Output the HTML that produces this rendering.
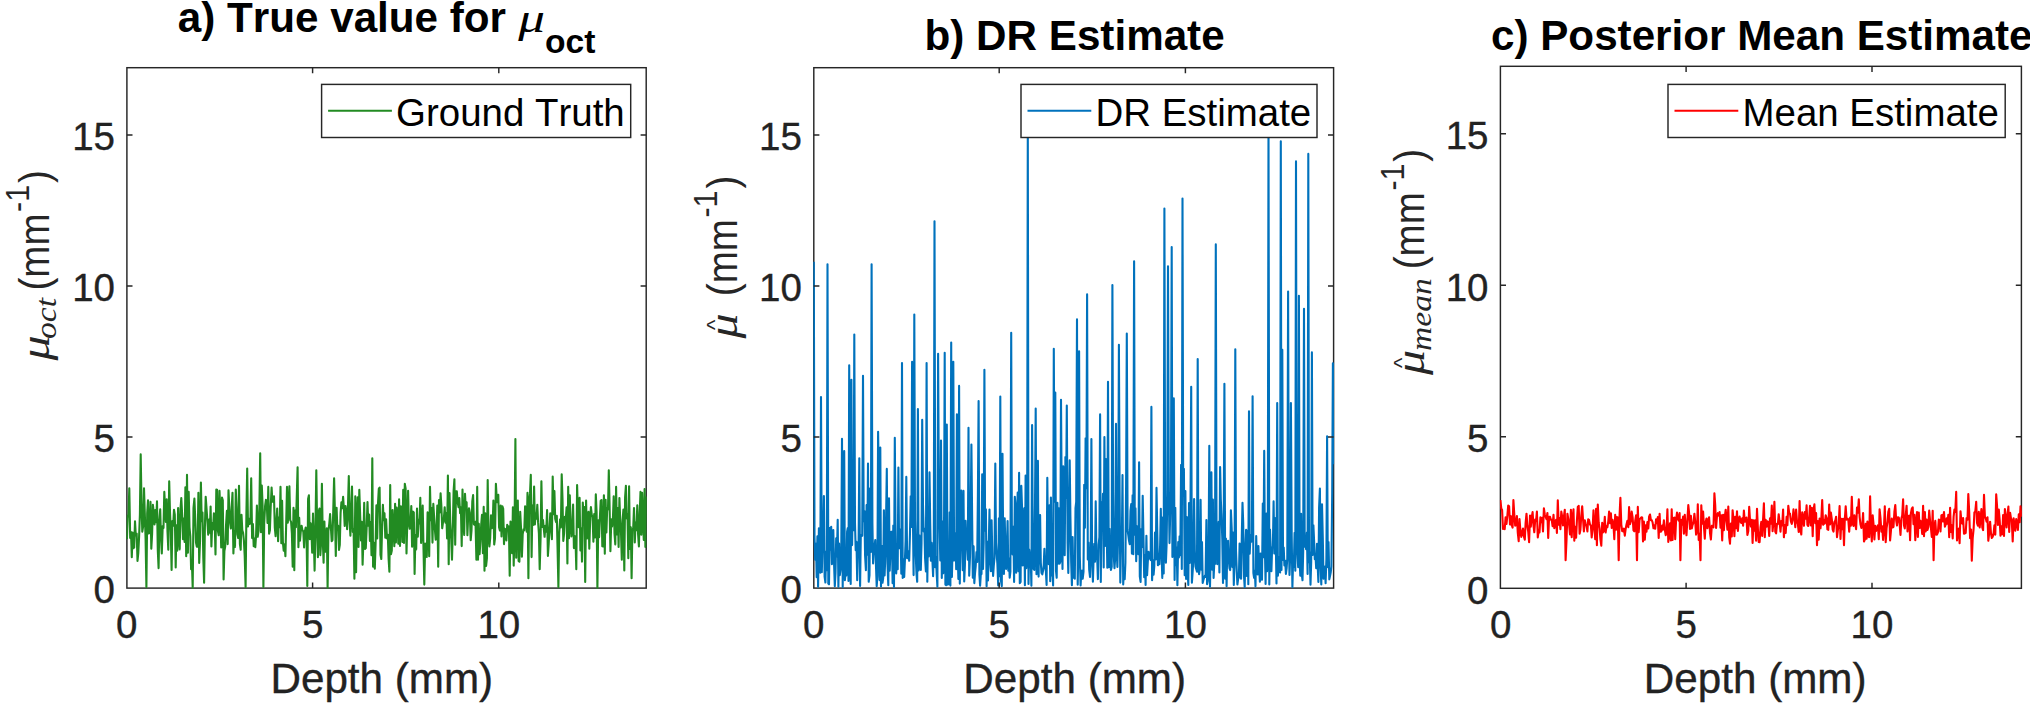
<!DOCTYPE html>
<html lang="en"><head><meta charset="utf-8"><title>Figure</title>
<style>html,body{margin:0;padding:0;background:#fff;overflow:hidden}svg{display:block}text{font-kerning:none}</style></head>
<body>
<svg width="2030" height="705" viewBox="0 0 2030 705">
<rect width="2030" height="705" fill="#fff"/>
<defs>
<clipPath id="cp0"><rect x="126.4" y="67.2" width="520.3" height="521.6"/></clipPath>
<clipPath id="cp1"><rect x="813.3" y="67.2" width="520.8" height="521.6"/></clipPath>
<clipPath id="cp2"><rect x="1499.9" y="65.8" width="522.0" height="523.2"/></clipPath>
</defs>
<rect x="126.9" y="67.7" width="519.3" height="520.4" fill="none" stroke="#262626" stroke-width="1.45"/>
<polyline clip-path="url(#cp0)" fill="none" stroke="#228B22" stroke-width="2.1" stroke-linejoin="round" points="126.9,539.1 127.7,515.6 128.5,516.4 129.3,488.4 130.2,538.0 131.0,532.1 131.8,557.3 132.6,532.5 133.4,548.2 134.2,547.5 135.0,521.2 135.8,535.5 136.7,533.7 137.5,560.9 138.3,552.9 139.1,536.4 139.9,514.8 140.7,454.4 141.5,503.0 142.3,531.7 143.2,526.2 144.0,488.4 144.8,513.2 145.6,539.3 146.4,587.1 147.2,513.4 148.0,500.4 148.8,533.4 149.7,532.8 150.5,501.9 151.3,548.7 152.1,534.0 152.9,504.9 153.7,512.4 154.5,524.5 155.3,510.1 156.2,522.1 157.0,501.4 157.8,550.5 158.6,568.1 159.4,519.9 160.2,509.4 161.0,537.8 161.8,553.4 162.7,526.1 163.5,528.1 164.3,491.9 165.1,508.2 165.9,522.0 166.7,499.2 167.5,531.8 168.3,549.7 169.2,481.2 170.0,512.3 170.8,532.1 171.6,570.0 172.4,521.1 173.2,525.8 174.0,509.7 174.8,514.6 175.7,567.4 176.5,525.2 177.3,550.6 178.1,508.0 178.9,537.7 179.7,549.4 180.5,509.2 181.3,498.1 182.2,515.7 183.0,539.1 183.8,518.6 184.6,541.9 185.4,487.3 186.2,556.3 187.0,474.9 187.9,552.7 188.7,491.9 189.5,527.3 190.3,536.0 191.1,569.3 191.9,561.4 192.7,587.9 193.5,508.1 194.4,498.6 195.2,518.1 196.0,542.6 196.8,546.6 197.6,546.6 198.4,492.8 199.2,562.9 200.0,541.5 200.9,482.5 201.7,521.2 202.5,512.5 203.3,557.7 204.1,582.8 204.9,526.9 205.7,496.7 206.5,508.0 207.4,521.4 208.2,534.6 209.0,519.5 209.8,532.8 210.6,506.5 211.4,546.4 212.2,523.4 213.0,529.5 213.9,513.3 214.7,521.2 215.5,554.5 216.3,489.6 217.1,489.7 217.9,530.7 218.7,535.2 219.5,490.9 220.4,513.6 221.2,547.4 222.0,497.6 222.8,500.3 223.6,579.5 224.4,551.0 225.2,546.6 226.0,525.7 226.9,510.9 227.7,544.1 228.5,490.2 229.3,507.7 230.1,522.9 230.9,528.5 231.7,508.4 232.5,492.8 233.4,553.5 234.2,531.5 235.0,546.9 235.8,489.5 236.6,510.5 237.4,534.3 238.2,538.0 239.0,485.8 239.9,544.1 240.7,549.8 241.5,514.8 242.3,530.2 243.1,532.9 243.9,540.5 244.7,555.8 245.6,587.1 246.4,513.7 247.2,468.5 248.0,526.5 248.8,518.5 249.6,523.9 250.4,523.3 251.2,478.2 252.1,538.1 252.9,524.0 253.7,546.2 254.5,538.6 255.3,547.1 256.1,535.0 256.9,505.6 257.7,536.8 258.6,530.6 259.4,506.6 260.2,453.2 261.0,532.3 261.8,485.5 262.6,505.5 263.4,587.1 264.2,523.4 265.1,506.0 265.9,499.9 266.7,501.0 267.5,522.9 268.3,486.9 269.1,533.8 269.9,530.2 270.7,506.9 271.6,487.6 272.4,501.7 273.2,501.5 274.0,496.3 274.8,527.4 275.6,536.2 276.4,522.6 277.2,508.6 278.1,541.3 278.9,517.3 279.7,527.2 280.5,486.7 281.3,543.2 282.1,500.8 282.9,542.7 283.7,550.6 284.6,544.4 285.4,556.2 286.2,523.1 287.0,486.9 287.8,522.7 288.6,511.3 289.4,486.3 290.2,520.1 291.1,521.9 291.9,533.6 292.7,566.6 293.5,507.9 294.3,570.3 295.1,510.6 295.9,527.1 296.7,498.8 297.6,467.2 298.4,547.2 299.2,517.9 300.0,540.6 300.8,531.2 301.6,525.7 302.4,530.1 303.3,531.4 304.1,547.4 304.9,531.4 305.7,527.5 306.5,530.7 307.3,585.9 308.1,499.0 308.9,495.3 309.8,539.3 310.6,523.2 311.4,529.9 312.2,552.7 313.0,513.6 313.8,538.2 314.6,570.6 315.4,533.4 316.3,470.3 317.1,524.1 317.9,557.3 318.7,511.5 319.5,508.5 320.3,555.1 321.1,543.1 321.9,483.8 322.8,540.8 323.6,562.8 324.4,521.6 325.2,551.8 326.0,546.3 326.8,528.2 327.6,587.9 328.4,531.2 329.3,523.6 330.1,514.0 330.9,527.7 331.7,541.2 332.5,539.9 333.3,508.3 334.1,478.2 334.9,511.4 335.8,555.9 336.6,507.8 337.4,529.8 338.2,525.9 339.0,549.9 339.8,544.8 340.6,512.8 341.4,502.3 342.3,508.1 343.1,496.8 343.9,509.0 344.7,526.0 345.5,506.0 346.3,512.0 347.1,529.2 347.9,508.8 348.8,476.1 349.6,520.9 350.4,535.6 351.2,508.9 352.0,486.6 352.8,532.0 353.6,529.0 354.4,578.7 355.3,496.4 356.1,572.3 356.9,517.7 357.7,497.2 358.5,546.9 359.3,489.9 360.1,513.5 361.0,540.4 361.8,521.7 362.6,564.8 363.4,540.8 364.2,502.8 365.0,548.9 365.8,548.1 366.6,528.8 367.5,502.1 368.3,525.7 369.1,514.5 369.9,540.9 370.7,522.0 371.5,555.3 372.3,458.3 373.1,566.7 374.0,542.8 374.8,568.8 375.6,543.7 376.4,505.4 377.2,538.5 378.0,503.6 378.8,488.9 379.6,487.6 380.5,554.7 381.3,559.0 382.1,527.4 382.9,504.9 383.7,520.1 384.5,513.2 385.3,537.7 386.1,519.3 387.0,538.4 387.8,534.8 388.6,558.8 389.4,571.8 390.2,485.1 391.0,554.2 391.8,550.5 392.6,510.1 393.5,529.4 394.3,546.3 395.1,503.8 395.9,542.4 396.7,507.5 397.5,517.9 398.3,543.7 399.1,499.4 400.0,546.0 400.8,506.4 401.6,507.1 402.4,542.0 403.2,489.9 404.0,542.9 404.8,483.8 405.6,488.4 406.5,553.4 407.3,521.7 408.1,490.8 408.9,523.9 409.7,528.8 410.5,524.2 411.3,506.0 412.1,546.7 413.0,511.6 413.8,512.5 414.6,573.9 415.4,535.1 416.2,549.4 417.0,508.5 417.8,536.6 418.7,519.6 419.5,523.5 420.3,497.8 421.1,543.0 421.9,529.0 422.7,505.5 423.5,548.8 424.3,584.6 425.2,543.6 426.0,544.1 426.8,556.9 427.6,512.4 428.4,522.3 429.2,556.2 430.0,486.9 430.8,520.3 431.7,508.1 432.5,542.6 433.3,503.9 434.1,516.6 434.9,529.6 435.7,539.6 436.5,532.8 437.3,505.5 438.2,566.7 439.0,500.0 439.8,512.4 440.6,493.4 441.4,506.6 442.2,528.3 443.0,522.4 443.8,519.4 444.7,507.2 445.5,522.7 446.3,513.0 447.1,538.4 447.9,475.6 448.7,564.2 449.5,493.0 450.3,522.8 451.2,539.0 452.0,559.8 452.8,530.6 453.6,491.0 454.4,479.2 455.2,544.7 456.0,491.3 456.8,491.4 457.7,502.4 458.5,507.2 459.3,498.1 460.1,513.3 460.9,507.5 461.7,546.1 462.5,489.6 463.3,521.0 464.2,534.9 465.0,493.7 465.8,509.3 466.6,502.4 467.4,535.3 468.2,515.5 469.0,508.2 469.8,512.4 470.7,540.1 471.5,530.3 472.3,501.5 473.1,495.1 473.9,524.3 474.7,524.8 475.5,521.8 476.4,559.8 477.2,486.9 478.0,559.7 478.8,523.7 479.6,554.2 480.4,541.3 481.2,524.6 482.0,514.8 482.9,553.3 483.7,506.9 484.5,570.7 485.3,513.2 486.1,565.9 486.9,558.3 487.7,480.0 488.5,536.8 489.4,546.5 490.2,537.8 491.0,515.2 491.8,528.1 492.6,527.5 493.4,500.6 494.2,544.5 495.0,538.4 495.9,483.8 496.7,497.8 497.5,502.2 498.3,494.9 499.1,527.6 499.9,530.6 500.7,505.6 501.5,536.5 502.4,506.2 503.2,508.8 504.0,544.1 504.8,528.8 505.6,529.7 506.4,540.5 507.2,524.9 508.0,529.2 508.9,526.4 509.7,575.7 510.5,521.5 511.3,526.9 512.1,553.3 512.9,507.3 513.7,565.6 514.5,532.1 515.4,439.1 516.2,557.7 517.0,505.5 517.8,500.6 518.6,561.1 519.4,561.6 520.2,511.8 521.0,527.5 521.9,556.8 522.7,534.1 523.5,529.4 524.3,530.3 525.1,506.2 525.9,517.2 526.7,531.7 527.5,492.7 528.4,578.2 529.2,500.1 530.0,493.9 530.8,474.9 531.6,557.1 532.4,505.5 533.2,525.0 534.1,486.6 534.9,524.4 535.7,513.7 536.5,518.6 537.3,504.7 538.1,522.4 538.9,533.4 539.7,569.3 540.6,537.6 541.4,481.2 542.2,526.9 543.0,520.0 543.8,528.9 544.6,536.8 545.4,525.8 546.2,531.7 547.1,510.1 547.9,556.0 548.7,543.9 549.5,527.7 550.3,513.2 551.1,527.9 551.9,539.2 552.7,476.6 553.6,514.1 554.4,491.0 555.2,518.8 556.0,522.1 556.8,515.8 557.6,550.1 558.4,587.1 559.2,533.4 560.1,519.4 560.9,527.5 561.7,474.4 562.5,498.9 563.3,540.9 564.1,533.3 564.9,516.9 565.7,520.1 566.6,507.3 567.4,563.4 568.2,486.8 569.0,538.3 569.8,495.4 570.6,524.8 571.4,536.4 572.2,530.2 573.1,504.5 573.9,548.1 574.7,536.1 575.5,538.7 576.3,569.3 577.1,485.1 577.9,512.4 578.7,527.3 579.6,497.9 580.4,550.5 581.2,528.6 582.0,561.6 582.8,502.5 583.6,517.6 584.4,507.0 585.2,582.0 586.1,500.5 586.9,538.5 587.7,532.1 588.5,511.7 589.3,548.7 590.1,521.5 590.9,507.1 591.8,515.2 592.6,516.9 593.4,541.7 594.2,514.0 595.0,537.4 595.8,494.4 596.6,512.0 597.4,587.9 598.3,520.4 599.1,537.3 599.9,517.4 600.7,500.7 601.5,500.0 602.3,546.2 603.1,546.4 603.9,495.3 604.8,553.8 605.6,499.7 606.4,532.4 607.2,507.8 608.0,509.3 608.8,470.3 609.6,506.4 610.4,551.3 611.3,519.4 612.1,526.4 612.9,519.1 613.7,496.2 614.5,533.5 615.3,544.4 616.1,486.9 616.9,534.5 617.8,508.1 618.6,546.9 619.4,498.0 620.2,519.6 621.0,532.4 621.8,559.8 622.6,520.7 623.4,509.6 624.3,570.5 625.1,497.2 625.9,485.9 626.7,518.4 627.5,514.6 628.3,558.3 629.1,486.3 629.9,549.0 630.8,527.2 631.6,578.2 632.4,530.5 633.2,528.2 634.0,508.0 634.8,542.5 635.6,522.7 636.4,530.1 637.3,505.2 638.1,534.1 638.9,546.5 639.7,513.6 640.5,491.9 641.3,534.7 642.1,492.8 642.9,520.3 643.8,540.0 644.6,489.0 645.4,547.0 646.2,496.6"/>
<text x="126.6" y="638.3" font-family='"Liberation Sans", Arial, Helvetica, sans-serif' font-size="38.5" fill="#222222" stroke="#222222" stroke-width="0.35" text-anchor="middle">0</text>
<path d="M312.6 588.1v-5.6M312.6 67.7v5.6" stroke="#262626" stroke-width="1.45" fill="none"/>
<text x="312.6" y="638.3" font-family='"Liberation Sans", Arial, Helvetica, sans-serif' font-size="38.5" fill="#222222" stroke="#222222" stroke-width="0.35" text-anchor="middle">5</text>
<path d="M498.8 588.1v-5.6M498.8 67.7v5.6" stroke="#262626" stroke-width="1.45" fill="none"/>
<text x="498.8" y="638.3" font-family='"Liberation Sans", Arial, Helvetica, sans-serif' font-size="38.5" fill="#222222" stroke="#222222" stroke-width="0.35" text-anchor="middle">10</text>
<text x="115.0" y="602.5" font-family='"Liberation Sans", Arial, Helvetica, sans-serif' font-size="38.5" fill="#222222" stroke="#222222" stroke-width="0.35" text-anchor="end">0</text>
<path d="M126.9 437.0h5.6M646.2 437.0h-5.6" stroke="#262626" stroke-width="1.45" fill="none"/>
<text x="115.0" y="451.5" font-family='"Liberation Sans", Arial, Helvetica, sans-serif' font-size="38.5" fill="#222222" stroke="#222222" stroke-width="0.35" text-anchor="end">5</text>
<path d="M126.9 286.0h5.6M646.2 286.0h-5.6" stroke="#262626" stroke-width="1.45" fill="none"/>
<text x="115.0" y="300.5" font-family='"Liberation Sans", Arial, Helvetica, sans-serif' font-size="38.5" fill="#222222" stroke="#222222" stroke-width="0.35" text-anchor="end">10</text>
<path d="M126.9 135.0h5.6M646.2 135.0h-5.6" stroke="#262626" stroke-width="1.45" fill="none"/>
<text x="115.0" y="149.5" font-family='"Liberation Sans", Arial, Helvetica, sans-serif' font-size="38.5" fill="#222222" stroke="#222222" stroke-width="0.35" text-anchor="end">15</text>
<text x="381.8" y="693" font-family='"Liberation Sans", Arial, Helvetica, sans-serif' font-size="42.2" fill="#222222" stroke="#222222" stroke-width="0.35" text-anchor="middle">Depth (mm)</text>
<rect x="321.6" y="84.4" width="309.1" height="53.1" fill="#fff" stroke="#262626" stroke-width="1.45"/>
<path d="M328.1 110.7h63.8" stroke="#228B22" stroke-width="2.1" fill="none"/>
<text x="396.1" y="125.6" font-family='"Liberation Sans", Arial, Helvetica, sans-serif' font-size="38.45" fill="#000">Ground Truth</text>
<rect x="813.8" y="67.7" width="519.8" height="520.4" fill="none" stroke="#262626" stroke-width="1.45"/>
<polyline clip-path="url(#cp1)" fill="none" stroke="#0072BD" stroke-width="2.1" stroke-linejoin="round" points="813.8,261.7 814.5,537.6 815.2,559.7 816.0,543.9 816.7,577.2 817.4,536.4 818.1,586.7 818.9,528.3 819.6,559.4 820.3,572.7 821.0,397.1 821.8,572.1 822.5,543.7 823.2,535.3 823.9,496.1 824.6,576.5 825.4,582.5 826.1,551.6 826.8,570.3 827.5,264.3 828.3,583.6 829.0,584.3 829.7,528.0 830.4,549.8 831.2,526.7 831.9,564.2 832.6,562.0 833.3,530.1 834.0,561.7 834.8,586.1 835.5,573.0 836.2,538.2 836.9,556.5 837.7,519.7 838.4,586.8 839.1,543.5 839.8,575.1 840.5,570.0 841.3,548.0 842.0,438.9 842.7,587.1 843.4,502.7 844.2,451.1 844.9,580.2 845.6,572.6 846.3,575.6 847.1,531.7 847.8,528.0 848.5,581.0 849.2,365.2 849.9,535.6 850.7,583.9 851.4,379.8 852.1,545.1 852.8,496.6 853.6,530.2 854.3,334.6 855.0,524.0 855.7,550.3 856.5,541.9 857.2,580.2 857.9,554.7 858.6,544.4 859.3,458.3 860.1,585.9 860.8,534.7 861.5,535.9 862.2,535.7 863.0,375.8 863.7,521.3 864.4,511.1 865.1,555.8 865.9,570.2 866.6,505.0 867.3,554.7 868.0,463.6 868.7,581.8 869.5,575.3 870.2,488.2 870.9,552.0 871.6,264.3 872.4,523.0 873.1,563.4 873.8,550.1 874.5,546.5 875.3,540.0 876.0,566.2 876.7,586.3 877.4,576.3 878.1,431.7 878.9,487.1 879.6,580.1 880.3,447.6 881.0,586.5 881.8,545.7 882.5,582.8 883.2,578.2 883.9,510.2 884.6,575.5 885.4,554.4 886.1,516.9 886.8,468.9 887.5,564.1 888.3,585.3 889.0,498.3 889.7,570.7 890.4,552.1 891.2,531.7 891.9,531.7 892.6,583.2 893.3,525.6 894.0,587.0 894.8,437.8 895.5,525.1 896.2,573.4 896.9,554.4 897.7,569.2 898.4,467.6 899.1,548.2 899.8,529.2 900.6,531.6 901.3,573.7 902.0,363.0 902.7,578.0 903.4,559.0 904.2,576.9 904.9,560.5 905.6,540.8 906.3,476.9 907.1,558.3 907.8,551.0 908.5,552.1 909.2,560.8 910.0,532.5 910.7,496.2 911.4,526.9 912.1,361.7 912.8,507.4 913.6,575.1 914.3,314.6 915.0,520.9 915.7,554.4 916.5,573.9 917.2,581.8 917.9,409.1 918.6,570.5 919.4,535.2 920.1,564.0 920.8,569.9 921.5,543.7 922.2,419.7 923.0,505.3 923.7,531.5 924.4,528.5 925.1,558.5 925.9,571.5 926.6,363.0 927.3,581.7 928.0,533.0 928.7,556.5 929.5,472.4 930.2,523.2 930.9,560.7 931.6,542.7 932.4,560.4 933.1,576.2 933.8,544.5 934.5,221.2 935.3,567.3 936.0,556.7 936.7,574.0 937.4,586.6 938.1,353.7 938.9,502.6 939.6,524.7 940.3,560.5 941.0,440.5 941.8,577.9 942.5,521.4 943.2,573.3 943.9,564.5 944.7,352.7 945.4,584.6 946.1,585.1 946.8,424.5 947.5,584.6 948.3,565.7 949.0,584.3 949.7,512.3 950.4,585.6 951.2,342.6 951.9,577.0 952.6,546.5 953.3,361.7 954.1,560.6 954.8,557.5 955.5,533.0 956.2,569.3 956.9,414.4 957.7,553.1 958.4,578.9 959.1,385.9 959.8,583.6 960.6,509.4 961.3,490.6 962.0,539.1 962.7,570.2 963.5,490.9 964.2,581.5 964.9,565.5 965.6,520.8 966.3,539.8 967.1,546.7 967.8,559.6 968.5,427.7 969.2,575.8 970.0,556.4 970.7,514.8 971.4,444.5 972.1,514.4 972.8,577.7 973.6,546.4 974.3,583.1 975.0,573.5 975.7,566.2 976.5,552.0 977.2,562.0 977.9,495.3 978.6,401.1 979.4,574.4 980.1,585.7 980.8,574.1 981.5,574.0 982.2,474.2 983.0,568.9 983.7,542.3 984.4,369.7 985.1,530.6 985.9,509.4 986.6,586.3 987.3,541.8 988.0,580.4 988.8,543.5 989.5,509.5 990.2,560.7 990.9,571.3 991.6,520.3 992.4,559.7 993.1,576.0 993.8,565.3 994.5,557.8 995.3,463.6 996.0,542.8 996.7,554.8 997.4,563.9 998.2,585.5 998.9,518.3 999.6,576.1 1000.3,396.6 1001.0,580.9 1001.8,586.1 1002.5,453.8 1003.2,548.2 1003.9,573.9 1004.7,518.4 1005.4,547.7 1006.1,568.9 1006.8,552.9 1007.6,521.0 1008.3,570.7 1009.0,558.2 1009.7,577.7 1010.4,571.6 1011.2,332.7 1011.9,544.6 1012.6,554.5 1013.3,526.9 1014.1,582.0 1014.8,496.7 1015.5,506.3 1016.2,572.7 1016.9,518.7 1017.7,492.6 1018.4,571.2 1019.1,472.9 1019.8,583.2 1020.6,582.0 1021.3,485.7 1022.0,506.0 1022.7,565.4 1023.5,544.1 1024.2,508.4 1024.9,585.2 1025.6,475.6 1026.3,568.2 1027.1,553.5 1027.8,127.3 1028.5,583.9 1029.2,549.6 1030.0,557.8 1030.7,557.0 1031.4,585.7 1032.1,425.0 1032.9,558.1 1033.6,569.0 1034.3,569.9 1035.0,505.5 1035.7,408.5 1036.5,574.2 1037.2,511.3 1037.9,460.9 1038.6,576.6 1039.4,520.1 1040.1,515.1 1040.8,562.7 1041.5,573.0 1042.3,574.3 1043.0,571.0 1043.7,565.3 1044.4,548.9 1045.1,566.8 1045.9,571.4 1046.6,585.0 1047.3,477.7 1048.0,539.4 1048.8,564.3 1049.5,505.3 1050.2,581.2 1050.9,497.5 1051.7,575.4 1052.4,570.4 1053.1,585.5 1053.8,348.7 1054.5,501.6 1055.3,392.6 1056.0,570.8 1056.7,577.8 1057.4,502.7 1058.2,563.6 1058.9,508.3 1059.6,563.7 1060.3,561.8 1061.0,399.8 1061.8,512.3 1062.5,569.0 1063.2,466.3 1063.9,530.0 1064.7,555.3 1065.4,457.0 1066.1,498.0 1066.8,405.6 1067.6,542.7 1068.3,573.0 1069.0,522.7 1069.7,460.4 1070.4,516.3 1071.2,562.2 1071.9,585.2 1072.6,537.1 1073.3,577.8 1074.1,576.1 1074.8,578.8 1075.5,508.1 1076.2,501.9 1077.0,319.4 1077.7,584.8 1078.4,546.9 1079.1,351.3 1079.8,556.3 1080.6,585.5 1081.3,571.1 1082.0,570.6 1082.7,578.6 1083.5,571.9 1084.2,484.7 1084.9,527.7 1085.6,438.3 1086.4,488.3 1087.1,294.4 1087.8,559.5 1088.5,542.5 1089.2,569.6 1090.0,576.9 1090.7,554.5 1091.4,439.1 1092.1,553.6 1092.9,581.6 1093.6,558.1 1094.3,543.9 1095.0,561.8 1095.7,501.4 1096.5,559.2 1097.2,558.0 1097.9,579.1 1098.6,544.8 1099.4,537.0 1100.1,414.4 1100.8,581.9 1101.5,502.3 1102.3,522.4 1103.0,493.9 1103.7,567.5 1104.4,437.0 1105.1,546.0 1105.9,459.1 1106.6,520.8 1107.3,567.8 1108.0,381.7 1108.8,567.2 1109.5,528.8 1110.2,555.9 1110.9,569.9 1111.7,566.7 1112.4,285.1 1113.1,492.8 1113.8,556.8 1114.5,568.2 1115.3,556.3 1116.0,423.7 1116.7,550.2 1117.4,567.0 1118.2,532.6 1118.9,344.7 1119.6,490.6 1120.3,582.6 1121.1,539.9 1121.8,545.6 1122.5,475.0 1123.2,584.5 1123.9,570.1 1124.7,579.3 1125.4,562.8 1126.1,485.5 1126.8,333.5 1127.6,530.0 1128.3,535.2 1129.0,540.6 1129.7,544.1 1130.5,510.8 1131.2,504.1 1131.9,553.6 1132.6,495.2 1133.3,554.3 1134.1,261.2 1134.8,534.8 1135.5,508.4 1136.2,561.3 1137.0,526.2 1137.7,546.3 1138.4,554.1 1139.1,462.3 1139.8,576.4 1140.6,581.9 1141.3,529.1 1142.0,547.1 1142.7,495.7 1143.5,540.1 1144.2,577.2 1144.9,555.6 1145.6,585.0 1146.4,535.7 1147.1,575.1 1147.8,561.8 1148.5,551.7 1149.2,558.4 1150.0,557.1 1150.7,560.1 1151.4,406.9 1152.1,580.3 1152.9,560.0 1153.6,574.6 1154.3,566.1 1155.0,532.6 1155.8,559.4 1156.5,487.9 1157.2,527.3 1157.9,565.3 1158.6,559.4 1159.4,564.1 1160.1,545.7 1160.8,508.7 1161.5,551.2 1162.3,577.9 1163.0,517.2 1163.7,573.5 1164.4,208.5 1165.2,530.9 1165.9,562.7 1166.6,544.5 1167.3,492.1 1168.0,266.2 1168.8,490.5 1169.5,543.1 1170.2,513.6 1170.9,507.4 1171.7,247.1 1172.4,556.9 1173.1,504.8 1173.8,398.4 1174.6,579.9 1175.3,507.8 1176.0,565.1 1176.7,547.3 1177.4,585.3 1178.2,542.1 1178.9,557.4 1179.6,536.4 1180.3,555.1 1181.1,464.9 1181.8,569.0 1182.5,198.6 1183.2,495.7 1183.9,468.9 1184.7,575.3 1185.4,491.1 1186.1,578.9 1186.8,517.1 1187.6,569.6 1188.3,584.9 1189.0,503.0 1189.7,562.9 1190.5,505.7 1191.2,386.7 1191.9,582.7 1192.6,572.4 1193.3,560.8 1194.1,499.1 1194.8,550.0 1195.5,566.4 1196.2,569.0 1197.0,571.8 1197.7,359.1 1198.4,561.9 1199.1,574.2 1199.9,567.8 1200.6,499.9 1201.3,569.6 1202.0,542.1 1202.7,582.9 1203.5,579.6 1204.2,577.4 1204.9,575.7 1205.6,577.0 1206.4,520.1 1207.1,584.3 1207.8,581.0 1208.5,565.7 1209.3,445.8 1210.0,586.8 1210.7,550.2 1211.4,472.4 1212.1,569.6 1212.9,499.5 1213.6,577.9 1214.3,562.7 1215.0,564.1 1215.8,244.4 1216.5,520.7 1217.2,564.1 1217.9,548.5 1218.7,521.9 1219.4,572.4 1220.1,467.1 1220.8,499.6 1221.5,515.0 1222.3,539.2 1223.0,582.9 1223.7,535.0 1224.4,383.8 1225.2,578.8 1225.9,538.5 1226.6,586.2 1227.3,544.8 1228.0,540.9 1228.8,560.1 1229.5,568.1 1230.2,570.1 1230.9,510.3 1231.7,528.6 1232.4,567.1 1233.1,532.5 1233.8,585.0 1234.6,559.6 1235.3,349.2 1236.0,550.8 1236.7,569.3 1237.4,584.5 1238.2,578.5 1238.9,577.2 1239.6,543.5 1240.3,577.3 1241.1,578.7 1241.8,535.7 1242.5,502.8 1243.2,522.8 1244.0,576.3 1244.7,587.1 1245.4,548.2 1246.1,529.8 1246.8,575.9 1247.6,530.5 1248.3,584.3 1249.0,411.2 1249.7,553.8 1250.5,534.8 1251.2,541.8 1251.9,540.9 1252.6,396.3 1253.4,573.1 1254.1,577.8 1254.8,570.6 1255.5,586.4 1256.2,536.1 1257.0,565.8 1257.7,574.4 1258.4,546.0 1259.1,566.5 1259.9,581.6 1260.6,553.6 1261.3,575.6 1262.0,579.7 1262.8,503.5 1263.5,557.3 1264.2,450.8 1264.9,549.1 1265.6,584.0 1266.4,513.5 1267.1,571.2 1267.8,553.0 1268.5,127.3 1269.3,584.4 1270.0,529.6 1270.7,549.3 1271.4,571.3 1272.1,548.3 1272.9,546.4 1273.6,501.4 1274.3,553.5 1275.0,518.0 1275.8,543.9 1276.5,583.4 1277.2,403.0 1277.9,575.8 1278.7,556.7 1279.4,569.8 1280.1,572.5 1280.8,141.2 1281.5,569.9 1282.3,349.7 1283.0,559.9 1283.7,547.6 1284.4,565.4 1285.2,560.8 1285.9,573.9 1286.6,568.4 1287.3,558.2 1288.1,291.5 1288.8,530.6 1289.5,575.0 1290.2,554.6 1290.9,403.0 1291.7,536.1 1292.4,587.1 1293.1,560.5 1293.8,567.0 1294.6,532.9 1295.3,570.8 1296.0,161.4 1296.7,533.6 1297.5,555.7 1298.2,567.1 1298.9,295.7 1299.6,559.6 1300.3,575.8 1301.1,513.7 1301.8,574.3 1302.5,580.3 1303.2,551.3 1304.0,308.8 1304.7,546.8 1305.4,538.0 1306.1,549.2 1306.9,532.6 1307.6,573.9 1308.3,153.9 1309.0,562.3 1309.7,552.4 1310.5,584.6 1311.2,561.6 1311.9,352.4 1312.6,554.9 1313.4,525.3 1314.1,541.2 1314.8,559.3 1315.5,555.7 1316.2,568.2 1317.0,543.9 1317.7,566.2 1318.4,582.0 1319.1,507.3 1319.9,488.5 1320.6,567.3 1321.3,584.5 1322.0,504.3 1322.8,538.1 1323.5,578.8 1324.2,568.2 1324.9,566.5 1325.6,583.3 1326.4,558.9 1327.1,436.2 1327.8,567.1 1328.5,542.0 1329.3,579.4 1330.0,576.1 1330.7,572.6 1331.4,566.4 1332.2,493.3 1332.9,363.3 1333.6,464.2"/>
<text x="813.8" y="638.3" font-family='"Liberation Sans", Arial, Helvetica, sans-serif' font-size="38.5" fill="#222222" stroke="#222222" stroke-width="0.35" text-anchor="middle">0</text>
<path d="M999.2 588.1v-5.6M999.2 67.7v5.6" stroke="#262626" stroke-width="1.45" fill="none"/>
<text x="999.2" y="638.3" font-family='"Liberation Sans", Arial, Helvetica, sans-serif' font-size="38.5" fill="#222222" stroke="#222222" stroke-width="0.35" text-anchor="middle">5</text>
<path d="M1185.4 588.1v-5.6M1185.4 67.7v5.6" stroke="#262626" stroke-width="1.45" fill="none"/>
<text x="1185.4" y="638.3" font-family='"Liberation Sans", Arial, Helvetica, sans-serif' font-size="38.5" fill="#222222" stroke="#222222" stroke-width="0.35" text-anchor="middle">10</text>
<text x="801.9" y="602.5" font-family='"Liberation Sans", Arial, Helvetica, sans-serif' font-size="38.5" fill="#222222" stroke="#222222" stroke-width="0.35" text-anchor="end">0</text>
<path d="M813.8 437.0h5.6M1333.6 437.0h-5.6" stroke="#262626" stroke-width="1.45" fill="none"/>
<text x="801.9" y="451.5" font-family='"Liberation Sans", Arial, Helvetica, sans-serif' font-size="38.5" fill="#222222" stroke="#222222" stroke-width="0.35" text-anchor="end">5</text>
<path d="M813.8 286.0h5.6M1333.6 286.0h-5.6" stroke="#262626" stroke-width="1.45" fill="none"/>
<text x="801.9" y="300.5" font-family='"Liberation Sans", Arial, Helvetica, sans-serif' font-size="38.5" fill="#222222" stroke="#222222" stroke-width="0.35" text-anchor="end">10</text>
<path d="M813.8 135.0h5.6M1333.6 135.0h-5.6" stroke="#262626" stroke-width="1.45" fill="none"/>
<text x="801.9" y="149.5" font-family='"Liberation Sans", Arial, Helvetica, sans-serif' font-size="38.5" fill="#222222" stroke="#222222" stroke-width="0.35" text-anchor="end">15</text>
<text x="1074.7" y="693" font-family='"Liberation Sans", Arial, Helvetica, sans-serif' font-size="42.2" fill="#222222" stroke="#222222" stroke-width="0.35" text-anchor="middle">Depth (mm)</text>
<rect x="1021.0" y="84.4" width="296.0" height="53.1" fill="#fff" stroke="#262626" stroke-width="1.45"/>
<path d="M1027.5 110.7h63.8" stroke="#0072BD" stroke-width="2.1" fill="none"/>
<text x="1095.5" y="125.6" font-family='"Liberation Sans", Arial, Helvetica, sans-serif' font-size="38.45" fill="#000">DR Estimate</text>
<rect x="1500.4" y="66.3" width="521.0" height="522.0" fill="none" stroke="#262626" stroke-width="1.45"/>
<polyline clip-path="url(#cp2)" fill="none" stroke="#FF0000" stroke-width="2.1" stroke-linejoin="round" points="1500.4,500.0 1501.3,508.6 1502.1,510.1 1503.0,529.0 1503.9,526.7 1504.7,529.2 1505.6,517.2 1506.5,524.0 1507.4,515.3 1508.2,505.6 1509.1,506.4 1510.0,524.5 1510.8,516.0 1511.7,524.9 1512.6,527.6 1513.4,500.0 1514.3,514.5 1515.2,525.6 1516.1,525.1 1516.9,516.0 1517.8,532.9 1518.7,541.1 1519.5,519.1 1520.4,530.7 1521.3,536.9 1522.1,532.3 1523.0,528.5 1523.9,536.4 1524.8,539.7 1525.6,523.0 1526.5,513.7 1527.4,526.0 1528.2,531.5 1529.1,542.1 1530.0,515.6 1530.8,526.7 1531.7,517.5 1532.6,512.1 1533.5,525.7 1534.3,532.3 1535.2,519.6 1536.1,520.7 1536.9,511.5 1537.8,537.4 1538.7,530.6 1539.5,532.5 1540.4,517.3 1541.3,522.1 1542.1,517.7 1543.0,531.5 1543.9,508.4 1544.8,514.5 1545.6,516.6 1546.5,519.1 1547.4,513.0 1548.2,537.9 1549.1,516.8 1550.0,516.9 1550.8,519.7 1551.7,519.7 1552.6,526.2 1553.5,514.9 1554.3,528.2 1555.2,523.6 1556.1,519.7 1556.9,533.0 1557.8,500.4 1558.7,524.6 1559.5,518.1 1560.4,529.1 1561.3,511.6 1562.2,516.8 1563.0,525.4 1563.9,516.6 1564.8,509.7 1565.6,560.2 1566.5,540.5 1567.4,513.8 1568.2,518.4 1569.1,524.5 1570.0,534.4 1570.9,509.8 1571.7,537.2 1572.6,517.3 1573.5,509.3 1574.3,540.8 1575.2,526.7 1576.1,537.7 1576.9,520.8 1577.8,507.0 1578.7,505.9 1579.6,533.8 1580.4,529.7 1581.3,515.8 1582.2,506.2 1583.0,518.8 1583.9,531.5 1584.8,520.2 1585.6,523.6 1586.5,525.6 1587.4,531.4 1588.2,519.2 1589.1,520.1 1590.0,524.4 1590.9,525.8 1591.7,537.4 1592.6,528.7 1593.5,510.3 1594.3,525.5 1595.2,539.1 1596.1,508.9 1596.9,545.3 1597.8,504.5 1598.7,522.7 1599.6,528.4 1600.4,539.2 1601.3,545.7 1602.2,522.8 1603.0,532.4 1603.9,530.5 1604.8,516.9 1605.6,532.5 1606.5,526.4 1607.4,527.2 1608.3,521.3 1609.1,511.5 1610.0,523.2 1610.9,513.4 1611.7,528.0 1612.6,519.9 1613.5,525.2 1614.3,539.2 1615.2,514.8 1616.1,529.8 1617.0,517.1 1617.8,517.5 1618.7,560.2 1619.6,514.6 1620.4,497.9 1621.3,524.6 1622.2,531.0 1623.0,531.4 1623.9,528.7 1624.8,535.7 1625.6,529.4 1626.5,524.4 1627.4,520.7 1628.3,527.1 1629.1,507.1 1630.0,524.2 1630.9,521.0 1631.7,511.6 1632.6,517.1 1633.5,530.4 1634.3,531.3 1635.2,521.0 1636.1,515.2 1637.0,560.2 1637.8,506.9 1638.7,532.3 1639.6,519.2 1640.4,518.4 1641.3,517.3 1642.2,517.5 1643.0,541.5 1643.9,521.5 1644.8,539.8 1645.7,525.2 1646.5,531.6 1647.4,522.1 1648.3,528.5 1649.1,516.7 1650.0,514.5 1650.9,520.1 1651.7,520.0 1652.6,522.4 1653.5,528.3 1654.4,525.2 1655.2,528.8 1656.1,519.2 1657.0,523.3 1657.8,517.1 1658.7,537.9 1659.6,513.8 1660.4,531.7 1661.3,531.4 1662.2,525.6 1663.0,529.6 1663.9,520.3 1664.8,529.7 1665.7,535.1 1666.5,532.6 1667.4,509.2 1668.3,541.9 1669.1,536.1 1670.0,523.3 1670.9,540.4 1671.7,509.4 1672.6,540.0 1673.5,518.2 1674.4,517.5 1675.2,539.2 1676.1,520.2 1677.0,512.6 1677.8,518.3 1678.7,520.6 1679.6,513.1 1680.4,560.2 1681.3,519.8 1682.2,524.8 1683.1,516.6 1683.9,533.7 1684.8,514.8 1685.7,528.9 1686.5,535.3 1687.4,519.5 1688.3,505.0 1689.1,513.0 1690.0,529.0 1690.9,515.8 1691.8,528.4 1692.6,524.8 1693.5,522.5 1694.4,513.7 1695.2,521.3 1696.1,534.6 1697.0,531.0 1697.8,504.3 1698.7,539.9 1699.6,533.7 1700.5,560.2 1701.3,505.3 1702.2,523.7 1703.1,511.6 1703.9,526.3 1704.8,538.7 1705.7,521.8 1706.5,518.6 1707.4,528.1 1708.3,520.1 1709.1,517.2 1710.0,532.8 1710.9,539.5 1711.8,525.8 1712.6,525.7 1713.5,527.3 1714.4,493.2 1715.2,504.7 1716.1,528.0 1717.0,515.8 1717.8,513.2 1718.7,515.7 1719.6,512.0 1720.5,527.7 1721.3,515.4 1722.2,540.5 1723.1,514.7 1723.9,530.2 1724.8,516.8 1725.7,509.7 1726.5,519.4 1727.4,529.6 1728.3,506.6 1729.2,537.0 1730.0,543.6 1730.9,523.6 1731.8,536.4 1732.6,510.2 1733.5,519.6 1734.4,536.1 1735.2,516.9 1736.1,528.1 1737.0,511.2 1737.9,530.9 1738.7,520.6 1739.6,516.5 1740.5,521.6 1741.3,522.9 1742.2,518.3 1743.1,525.7 1743.9,510.6 1744.8,521.8 1745.7,520.2 1746.5,517.5 1747.4,534.9 1748.3,531.1 1749.2,506.8 1750.0,519.8 1750.9,526.5 1751.8,519.7 1752.6,543.0 1753.5,520.4 1754.4,530.7 1755.2,520.4 1756.1,540.6 1757.0,508.9 1757.9,529.0 1758.7,541.9 1759.6,542.1 1760.5,527.5 1761.3,521.8 1762.2,535.9 1763.1,519.1 1763.9,503.2 1764.8,537.3 1765.7,519.8 1766.6,526.8 1767.4,521.3 1768.3,521.8 1769.2,536.0 1770.0,518.4 1770.9,523.8 1771.8,505.6 1772.6,531.1 1773.5,521.5 1774.4,501.7 1775.3,531.8 1776.1,533.3 1777.0,523.8 1777.9,523.9 1778.7,514.2 1779.6,522.0 1780.5,531.7 1781.3,521.1 1782.2,525.4 1783.1,509.6 1783.9,537.3 1784.8,525.0 1785.7,532.9 1786.6,516.7 1787.4,525.3 1788.3,505.7 1789.2,513.3 1790.0,513.7 1790.9,521.4 1791.8,523.9 1792.6,519.7 1793.5,509.3 1794.4,517.6 1795.3,527.2 1796.1,509.6 1797.0,521.3 1797.9,524.3 1798.7,532.0 1799.6,501.1 1800.5,530.3 1801.3,534.5 1802.2,512.4 1803.1,517.3 1804.0,525.8 1804.8,512.0 1805.7,518.7 1806.6,505.3 1807.4,524.8 1808.3,526.0 1809.2,517.6 1810.0,505.9 1810.9,525.5 1811.8,507.9 1812.7,536.1 1813.5,510.3 1814.4,504.3 1815.3,523.1 1816.1,513.0 1817.0,545.1 1817.9,521.0 1818.7,539.7 1819.6,518.6 1820.5,528.3 1821.3,519.6 1822.2,500.0 1823.1,524.7 1824.0,520.0 1824.8,523.6 1825.7,515.2 1826.6,518.0 1827.4,529.4 1828.3,529.8 1829.2,504.5 1830.0,524.5 1830.9,512.6 1831.8,519.1 1832.7,529.6 1833.5,531.6 1834.4,522.1 1835.3,520.6 1836.1,516.7 1837.0,537.2 1837.9,529.9 1838.7,524.5 1839.6,506.0 1840.5,538.9 1841.4,518.7 1842.2,529.3 1843.1,518.7 1844.0,545.3 1844.8,519.5 1845.7,506.4 1846.6,519.6 1847.4,518.7 1848.3,519.4 1849.2,531.6 1850.1,517.5 1850.9,525.7 1851.8,496.8 1852.7,523.8 1853.5,525.9 1854.4,515.2 1855.3,523.9 1856.1,529.2 1857.0,507.6 1857.9,512.7 1858.8,499.4 1859.6,516.8 1860.5,524.6 1861.4,528.0 1862.2,526.5 1863.1,513.1 1864.0,541.5 1864.8,539.6 1865.7,523.9 1866.6,538.8 1867.4,521.6 1868.3,536.5 1869.2,537.2 1870.1,496.4 1870.9,524.3 1871.8,541.5 1872.7,515.3 1873.5,523.8 1874.4,539.5 1875.3,525.7 1876.1,530.9 1877.0,528.8 1877.9,525.4 1878.8,539.2 1879.6,509.3 1880.5,518.1 1881.4,531.6 1882.2,526.4 1883.1,539.9 1884.0,527.2 1884.8,506.4 1885.7,542.1 1886.6,528.2 1887.5,521.8 1888.3,512.0 1889.2,508.7 1890.1,540.4 1890.9,531.5 1891.8,518.5 1892.7,527.4 1893.5,526.8 1894.4,511.7 1895.3,505.0 1896.2,520.5 1897.0,525.5 1897.9,517.2 1898.8,517.7 1899.6,523.6 1900.5,535.0 1901.4,518.3 1902.2,515.6 1903.1,499.4 1904.0,525.5 1904.8,528.5 1905.7,515.7 1906.6,505.7 1907.5,531.4 1908.3,516.0 1909.2,515.6 1910.1,540.3 1910.9,513.2 1911.8,508.7 1912.7,507.4 1913.5,524.1 1914.4,514.9 1915.3,540.2 1916.2,522.4 1917.0,512.0 1917.9,536.9 1918.8,512.6 1919.6,528.0 1920.5,520.8 1921.4,524.6 1922.2,534.0 1923.1,505.7 1924.0,536.2 1924.9,512.0 1925.7,531.5 1926.6,519.6 1927.5,529.9 1928.3,526.9 1929.2,510.5 1930.1,521.1 1930.9,527.7 1931.8,537.0 1932.7,510.8 1933.6,560.2 1934.4,527.0 1935.3,520.8 1936.2,534.6 1937.0,534.5 1937.9,532.4 1938.8,519.6 1939.6,520.2 1940.5,531.5 1941.4,515.4 1942.2,514.9 1943.1,521.5 1944.0,512.1 1944.9,526.6 1945.7,524.7 1946.6,518.3 1947.5,523.8 1948.3,514.8 1949.2,537.1 1950.1,507.9 1950.9,531.9 1951.8,525.2 1952.7,538.4 1953.6,516.9 1954.4,509.6 1955.3,511.8 1956.2,491.9 1957.0,540.4 1957.9,531.9 1958.8,528.5 1959.6,543.2 1960.5,511.2 1961.4,521.4 1962.3,523.7 1963.1,518.1 1964.0,533.8 1964.9,533.3 1965.7,533.0 1966.6,518.0 1967.5,519.7 1968.3,494.0 1969.2,511.7 1970.1,538.2 1971.0,529.5 1971.8,560.6 1972.7,538.1 1973.6,529.2 1974.4,512.4 1975.3,511.4 1976.2,501.7 1977.0,523.0 1977.9,525.7 1978.8,511.7 1979.7,527.5 1980.5,519.7 1981.4,509.0 1982.3,527.4 1983.1,530.1 1984.0,494.7 1984.9,516.9 1985.7,518.2 1986.6,521.7 1987.5,517.4 1988.3,540.8 1989.2,532.8 1990.1,521.7 1991.0,533.5 1991.8,538.0 1992.7,536.6 1993.6,533.4 1994.4,525.4 1995.3,534.6 1996.2,494.3 1997.0,505.0 1997.9,525.0 1998.8,509.6 1999.7,520.3 2000.5,535.6 2001.4,526.2 2002.3,534.1 2003.1,515.1 2004.0,536.0 2004.9,509.0 2005.7,517.1 2006.6,527.5 2007.5,514.9 2008.4,506.5 2009.2,532.0 2010.1,512.7 2011.0,518.3 2011.8,520.7 2012.7,541.5 2013.6,518.2 2014.4,524.5 2015.3,530.6 2016.2,519.1 2017.1,523.7 2017.9,529.9 2018.8,514.4 2019.7,522.2 2020.5,506.4 2021.4,516.7"/>
<text x="1500.6" y="638.3" font-family='"Liberation Sans", Arial, Helvetica, sans-serif' font-size="38.5" fill="#222222" stroke="#222222" stroke-width="0.35" text-anchor="middle">0</text>
<path d="M1686.1 588.3v-5.6M1686.1 66.3v5.6" stroke="#262626" stroke-width="1.45" fill="none"/>
<text x="1686.1" y="638.3" font-family='"Liberation Sans", Arial, Helvetica, sans-serif' font-size="38.5" fill="#222222" stroke="#222222" stroke-width="0.35" text-anchor="middle">5</text>
<path d="M1872.0 588.3v-5.6M1872.0 66.3v5.6" stroke="#262626" stroke-width="1.45" fill="none"/>
<text x="1872.0" y="638.3" font-family='"Liberation Sans", Arial, Helvetica, sans-serif' font-size="38.5" fill="#222222" stroke="#222222" stroke-width="0.35" text-anchor="middle">10</text>
<text x="1488.5" y="603.6" font-family='"Liberation Sans", Arial, Helvetica, sans-serif' font-size="38.5" fill="#222222" stroke="#222222" stroke-width="0.35" text-anchor="end">0</text>
<path d="M1500.4 436.8h5.6M2021.4 436.8h-5.6" stroke="#262626" stroke-width="1.45" fill="none"/>
<text x="1488.5" y="452.1" font-family='"Liberation Sans", Arial, Helvetica, sans-serif' font-size="38.5" fill="#222222" stroke="#222222" stroke-width="0.35" text-anchor="end">5</text>
<path d="M1500.4 285.3h5.6M2021.4 285.3h-5.6" stroke="#262626" stroke-width="1.45" fill="none"/>
<text x="1488.5" y="300.6" font-family='"Liberation Sans", Arial, Helvetica, sans-serif' font-size="38.5" fill="#222222" stroke="#222222" stroke-width="0.35" text-anchor="end">10</text>
<path d="M1500.4 133.8h5.6M2021.4 133.8h-5.6" stroke="#262626" stroke-width="1.45" fill="none"/>
<text x="1488.5" y="149.1" font-family='"Liberation Sans", Arial, Helvetica, sans-serif' font-size="38.5" fill="#222222" stroke="#222222" stroke-width="0.35" text-anchor="end">15</text>
<text x="1755.2" y="693" font-family='"Liberation Sans", Arial, Helvetica, sans-serif' font-size="42.2" fill="#222222" stroke="#222222" stroke-width="0.35" text-anchor="middle">Depth (mm)</text>
<rect x="1668.0" y="84.4" width="337.2" height="53.1" fill="#fff" stroke="#262626" stroke-width="1.45"/>
<path d="M1674.5 110.7h63.8" stroke="#FF0000" stroke-width="2.1" fill="none"/>
<text x="1742.5" y="125.6" font-family='"Liberation Sans", Arial, Helvetica, sans-serif' font-size="38.45" fill="#000">Mean Estimate</text>
<text x="177.8" y="32.2" font-family='"Liberation Sans", Arial, Helvetica, sans-serif' font-size="42.2" font-weight="bold" fill="#000">a) True value for</text>
<text transform="translate(518.2,32.2) scale(1.3,1)" font-family='"Liberation Serif", "DejaVu Serif", serif' font-style="italic" font-size="41" fill="#000">μ</text>
<text x="545" y="52.6" font-family='"Liberation Sans", Arial, Helvetica, sans-serif' font-size="33.6" font-weight="bold" fill="#000">oct</text>
<text x="1074.6" y="50.3" font-family='"Liberation Sans", Arial, Helvetica, sans-serif' font-size="42.2" font-weight="bold" fill="#000" text-anchor="middle">b) DR Estimate</text>
<text x="1491" y="50.3" font-family='"Liberation Sans", Arial, Helvetica, sans-serif' font-size="42.2" font-weight="bold" fill="#000">c) Posterior Mean Estimate</text>
<text transform="translate(48.8,360.5) rotate(-90) scale(1.250,1)" font-family='"Liberation Serif", "DejaVu Serif", serif' font-size="40" font-style="italic" fill="#262626">μ</text>
<text transform="translate(56.2,339.0) rotate(-90) scale(1.120,1)" font-family='"Liberation Serif", "DejaVu Serif", serif' font-size="30" font-style="italic" fill="#262626">oct</text>
<text transform="translate(48.8,290.6) rotate(-90) scale(0.915,1)" font-family='"Liberation Sans", Arial, Helvetica, sans-serif' font-size="42.2" fill="#262626">(mm</text>
<text transform="translate(28.6,211.9) rotate(-90) scale(0.920,1)" font-family='"Liberation Sans", Arial, Helvetica, sans-serif' font-size="33" fill="#262626">-1</text>
<text transform="translate(48.8,183.0) rotate(-90) scale(0.915,1)" font-family='"Liberation Sans", Arial, Helvetica, sans-serif' font-size="42.2" fill="#262626">)</text>
<text transform="translate(737.4,338.6) rotate(-90) scale(1.250,1)" font-family='"Liberation Serif", "DejaVu Serif", serif' font-size="40" font-style="italic" fill="#262626">μ</text>
<text transform="translate(722.0,330.0) rotate(-90) scale(1.000,1)" font-family='"Liberation Sans", Arial, Helvetica, sans-serif' font-size="22" fill="#262626">^</text>
<text transform="translate(737.4,296.2) rotate(-90) scale(0.915,1)" font-family='"Liberation Sans", Arial, Helvetica, sans-serif' font-size="42.2" fill="#262626">(mm</text>
<text transform="translate(717.2,217.5) rotate(-90) scale(0.920,1)" font-family='"Liberation Sans", Arial, Helvetica, sans-serif' font-size="33" fill="#262626">-1</text>
<text transform="translate(737.4,188.6) rotate(-90) scale(0.915,1)" font-family='"Liberation Sans", Arial, Helvetica, sans-serif' font-size="42.2" fill="#262626">)</text>
<text transform="translate(1424.3,375.0) rotate(-90) scale(1.250,1)" font-family='"Liberation Serif", "DejaVu Serif", serif' font-size="40" font-style="italic" fill="#262626">μ</text>
<text transform="translate(1430.5,351.0) rotate(-90) scale(1.120,1)" font-family='"Liberation Serif", "DejaVu Serif", serif' font-size="30" font-style="italic" fill="#262626">mean</text>
<text transform="translate(1408.5,368.0) rotate(-90) scale(1.000,1)" font-family='"Liberation Sans", Arial, Helvetica, sans-serif' font-size="22" fill="#262626">^</text>
<text transform="translate(1424.3,269.3) rotate(-90) scale(0.915,1)" font-family='"Liberation Sans", Arial, Helvetica, sans-serif' font-size="42.2" fill="#262626">(mm</text>
<text transform="translate(1404.1,190.6) rotate(-90) scale(0.920,1)" font-family='"Liberation Sans", Arial, Helvetica, sans-serif' font-size="33" fill="#262626">-1</text>
<text transform="translate(1424.3,161.7) rotate(-90) scale(0.915,1)" font-family='"Liberation Sans", Arial, Helvetica, sans-serif' font-size="42.2" fill="#262626">)</text>
</svg>
</body></html>
